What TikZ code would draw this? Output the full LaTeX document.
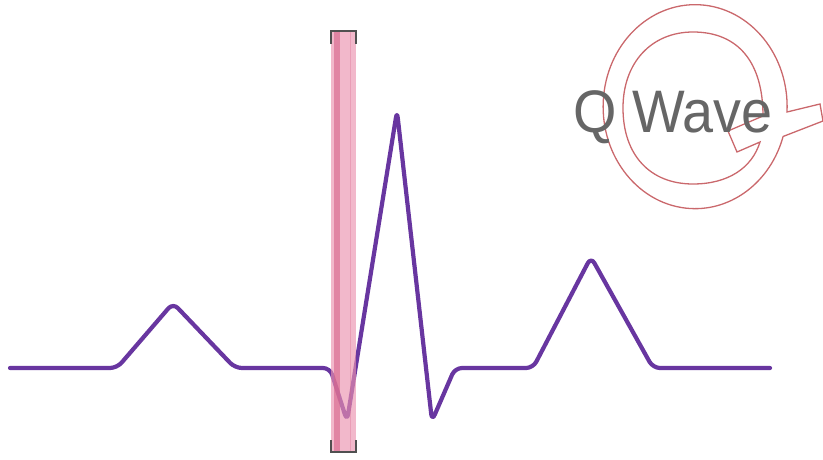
\documentclass[tikz,border=0pt]{standalone}
\usepackage{fontspec}
\setmainfont{Liberation Sans}
\definecolor{ecgpurple}{RGB}{104,54,160}
\definecolor{qred}{RGB}{202,104,108}
\definecolor{labelgray}{RGB}{102,102,102}
\definecolor{barpink}{RGB}{235,146,175}
\definecolor{stripepink}{RGB}{214,98,137}
\definecolor{capgray}{RGB}{80,80,80}
\tikzset{
  trace/.style={draw=ecgpurple, line width=4.2pt, rounded corners=7pt, line cap=round, line join=round},
  qline/.style={draw=qred, line width=1.3pt, line join=miter},
  bracketline/.style={draw=capgray, line width=2.2pt},
}
\begin{document}
\begin{tikzpicture}[x=1pt, y=-1pt]
\useasboundingbox (0,0) rectangle (823,460);

% Q-shaped outline behind the label: outer ring with tail
\draw[qline] (787,112) arc[start angle=3, end angle=-343, x radius=92, y radius=102]
  -- (823,121) -- (820,104) -- cycle;
% inner counter with the notch cut by the tail
\draw[qline] (763,116) .. controls (763,62) and (738,32) .. (693,32)
  .. controls (652,32) and (623,62) .. (623,108)
  .. controls (623,155) and (650,184) .. (693,184)
  .. controls (728,184) and (752,168) .. (760,142)
  -- (737,152) -- (728,131) -- cycle;

% label
\node[text=labelgray, font=\fontsize{60}{60}\selectfont, anchor=base west,
      inner sep=0pt, transform shape, xscale=0.93] (label) at (573,132) {Q Wave};

% ECG trace
\coordinate (start) at (10,368);
\coordinate (pOn) at (117,368);
\coordinate (pPeak) at (173,303);
\coordinate (pOff) at (235,368);
\coordinate (qOn) at (330,368);
\coordinate (qMin) at (347,421);
\coordinate (rPeak) at (397,111);
\coordinate (sMin) at (432,421);
\coordinate (sOff) at (455,368);
\coordinate (tOn) at (533,368);
\coordinate (tPeak) at (591,257);
\coordinate (tOff) at (653,368);
\coordinate (finish) at (770,368);
\draw[trace] (start) -- (pOn) -- (pPeak) -- (pOff) -- (qOn) -- (qMin)
  -- (rPeak) -- (sMin) -- (sOff) -- (tOn) -- (tPeak) -- (tOff) -- (finish);

% highlighted Q interval
\coordinate (barTL) at (331,31);
\coordinate (barBR) at (356,452);
\fill[barpink, fill opacity=0.65] (barTL) rectangle (barBR);
\fill[stripepink, fill opacity=0.6] (334,31) rectangle (340,452);
\draw[stripepink, opacity=0.3, line width=1pt] (350,31) -- (350,452);

% end caps of the interval
\draw[bracketline] (331,44) -- (331,31) -- (356,31) -- (356,44);
\draw[bracketline] (331,440) -- (331,452) -- (356,452) -- (356,440);
\end{tikzpicture}
\end{document}
